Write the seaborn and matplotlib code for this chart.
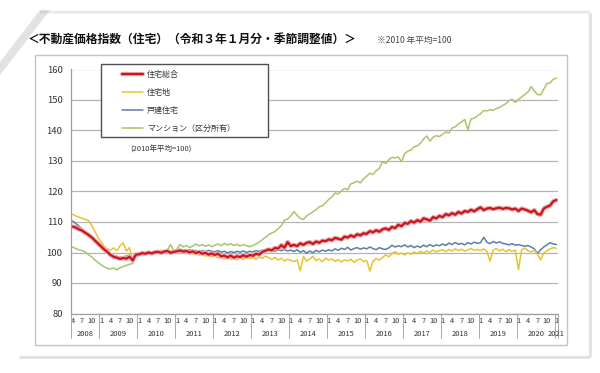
import numpy as np
import pandas as pd
import matplotlib
matplotlib.use("Agg")
import matplotlib.pyplot as plt
import matplotlib.patheffects as pe
import matplotlib.transforms as mtransforms
from matplotlib.lines import Line2D
from matplotlib.patches import Rectangle, Polygon
import seaborn as sns

# ---------------- data (monthly, Apr 2008 - Jan 2021) ----------------
months = pd.date_range("2008-04-01", periods=154, freq="MS")

sogo = [  # 住宅総合
    108.5, 108.2, 107.6, 107.2, 106.5, 105.8, 105.0, 104.0, 103.0,
    102.0, 101.0, 100.2, 99.2, 98.6, 98.3, 97.9, 98.2, 98.0, 98.6, 97.4, 99.3,
    99.4, 99.8, 99.6, 100.0, 99.7, 100.1, 100.2, 99.9, 100.3, 100.5, 99.9, 100.2,
    100.4, 100.7, 100.3, 100.5, 100.0, 100.4, 99.8, 100.2, 99.6, 99.9, 99.3, 99.7,
    99.2, 99.6, 98.7, 99.0, 98.4, 99.0, 98.3, 98.8, 98.5, 99.1, 98.6, 99.2,
    98.9, 99.6, 99.3, 100.2, 100.6, 101.0, 100.7, 101.5, 101.3, 102.4, 101.6, 103.4,
    102.1, 102.5, 102.1, 103.0, 102.5, 103.2, 103.4, 102.8, 103.6, 103.2, 103.9, 103.7,
    104.3, 104.0, 104.8, 104.5, 104.2, 105.2, 104.9, 105.6, 105.1, 106.0, 105.6, 106.3,
    106.1, 107.0, 106.6, 107.3, 106.8, 107.6, 107.9, 107.4, 108.4, 108.0, 109.1, 108.6,
    109.7, 109.4, 110.3, 109.8, 110.6, 110.1, 111.2, 110.9, 110.4, 111.6, 111.2, 112.0,
    111.6, 112.6, 112.2, 112.9, 112.4, 113.3, 112.8, 113.6, 113.3, 114.0, 113.5, 114.2,
    114.8, 113.9, 114.4, 114.6, 114.2, 114.5, 114.7, 114.3, 114.6, 114.5, 114.1, 114.4,
    113.6, 114.4, 114.1, 113.7, 113.2, 113.9, 112.6, 112.4, 114.4, 115.0, 115.4, 116.8,
    117.2,
]

takuchi = [  # 住宅地
    112.5, 112.0, 111.6, 111.2, 110.8, 110.5, 109.0, 107.0, 105.0,
    103.5, 102.0, 101.2, 100.8, 101.5, 100.6, 102.2, 103.2, 100.5, 101.6, 97.2, 99.4,
    99.8, 100.3, 99.5, 100.2, 99.9, 100.4, 99.7, 100.8, 100.1, 101.0, 100.3, 100.5,
    100.9, 100.2, 100.6, 99.8, 100.3, 99.5, 99.9, 99.1, 99.6, 98.8, 99.2, 98.6,
    98.9, 98.2, 98.7, 97.9, 98.5, 97.8, 98.4, 97.6, 98.3, 97.7, 98.6, 98.0,
    98.4, 97.8, 98.6, 98.1, 98.8, 98.3, 97.8, 98.4, 97.5, 98.1, 97.2, 97.8,
    97.4, 97.0, 97.6, 94.0, 98.7, 97.2, 97.9, 98.8, 97.3, 97.9, 97.0, 98.2,
    97.5, 97.9, 97.1, 97.7, 96.9, 97.6, 97.2, 97.8, 96.8, 97.5, 97.9, 97.0,
    97.4, 93.9, 97.2, 98.0, 97.5, 98.3, 99.2, 98.6, 99.6, 100.3, 99.4, 99.8,
    99.2, 99.9, 99.4, 100.2, 99.6, 100.4, 99.8, 100.5, 100.1, 100.8, 100.2, 100.6,
    100.9, 100.3, 101.0, 100.5, 101.2, 100.6, 101.1, 100.4, 100.9, 101.3, 100.7, 101.0,
    100.6, 101.2, 100.4, 97.2, 100.8, 101.3, 100.5, 101.1, 100.3, 100.9, 100.4, 100.8,
    94.4, 100.9, 101.4, 100.6, 100.2, 100.8, 99.4, 97.6, 99.8, 100.6, 101.2, 101.6,
    101.4,
]

kodate = [  # 戸建住宅
    110.3, 109.5, 108.6, 107.7, 106.7, 105.7, 104.6, 103.5, 102.6,
    101.7, 100.8, 100.2, 99.5, 99.0, 98.7, 98.4, 98.6, 98.8, 99.1, 98.0, 99.5,
    99.6, 99.9, 99.7, 100.1, 99.8, 100.2, 100.0, 100.3, 100.1, 100.4, 100.0, 100.3,
    100.6, 100.3, 100.8, 100.5, 100.9, 100.4, 100.7, 100.2, 100.6, 100.3, 100.7, 100.4,
    100.2, 100.6, 100.1, 100.4, 99.9, 100.3, 100.0, 100.4, 100.1, 100.5, 100.0, 100.4,
    100.2, 100.6, 100.3, 100.8, 100.5, 101.0, 100.7, 100.4, 100.9, 100.6, 101.0, 100.5,
    100.8, 100.3, 100.9, 100.1, 100.6, 99.8, 100.5, 99.9, 100.7, 100.2, 100.8, 100.4,
    100.9, 100.5, 101.2, 100.7, 101.4, 101.0, 101.7, 100.8, 101.3, 101.6, 101.1, 101.5,
    101.2, 101.8, 101.3, 100.9, 101.6, 101.2, 101.0, 101.5, 102.4, 101.8, 102.2, 101.9,
    102.5, 101.8, 102.3, 101.6, 102.1, 101.7, 102.4, 101.9, 102.6, 102.0, 102.5, 102.2,
    102.8, 102.3, 103.1, 102.6, 103.3, 102.7, 103.0, 102.5, 103.2, 102.8, 103.4, 103.0,
    103.2, 105.0, 103.4, 102.9, 103.6, 103.1, 103.5, 103.0, 102.8, 102.5, 102.9, 102.4,
    102.6, 102.3, 102.0, 102.3, 101.8, 101.2, 99.7, 100.9, 101.8, 102.5, 103.2, 102.8,
    102.6,
]

mansion = [  # マンション（区分所有）
    101.8, 101.3, 100.9, 100.6, 100.2, 99.3, 98.6, 97.6, 96.8,
    96.0, 95.3, 94.8, 94.6, 94.9, 94.3, 95.0, 95.4, 95.8, 96.1, 96.4, 98.4,
    99.2, 99.6, 99.4, 100.0, 99.7, 100.2, 99.8, 100.4, 100.1, 100.9, 102.6, 100.4,
    101.2, 102.6, 101.8, 102.3, 101.6, 102.1, 102.8, 102.2, 102.6, 102.0, 102.5, 101.9,
    102.4, 102.8, 102.2, 103.0, 102.5, 102.9, 102.3, 102.7, 102.1, 102.6, 102.2, 101.9,
    102.3, 102.8, 103.4, 104.2, 105.0, 105.8, 106.4, 106.9, 107.8, 108.8, 110.6, 111.0,
    112.0, 113.4, 112.2, 111.2, 110.8, 112.0, 112.6, 113.4, 114.0, 115.0, 115.3, 116.3,
    117.4, 118.2, 119.5, 119.2, 120.2, 121.0, 120.6, 122.5, 122.9, 123.4, 122.8, 124.2,
    125.0, 126.0, 125.6, 126.8, 127.6, 129.8, 129.2, 130.4, 131.2, 131.0, 131.3, 129.8,
    132.4, 133.2, 133.6, 134.6, 135.0, 135.8, 137.2, 138.2, 136.5, 137.8, 138.3, 138.0,
    138.8, 139.5, 139.2, 140.8, 141.2, 142.2, 142.8, 143.6, 140.2, 143.8, 144.0, 144.8,
    145.5, 146.6, 146.4, 146.8, 146.6, 147.2, 147.6, 148.2, 148.8, 149.8, 150.2, 149.2,
    150.2, 151.0, 151.8, 152.6, 154.4, 153.0, 151.8, 151.7, 153.6, 155.4, 155.6, 156.8,
    157.2,
]

series_names = ["住宅総合", "住宅地", "戸建住宅", "マンション（区分所有）"]
series_values = [sogo, takuchi, kodate, mansion]
colors = ["#c8161e", "#e6c430", "#5a7ea8", "#a9c46e"]
yticks = [80, 90, 100, 110, 120, 130, 140, 150, 160]
title = "＜不動産価格指数（住宅）（令和３年１月分・季節調整値）＞"
note = "※2010 年平均=100"
legend_note = "(2010年平均=100)"

# ---------------- style ----------------
sns.set_style("white")
plt.rcParams["font.family"] = ["Noto Sans CJK JP", "DejaVu Sans"]

W, H = 600, 373
fig = plt.figure(figsize=(W / 100, H / 100), dpi=100)
fig.patch.set_facecolor("white")


def fx(px):
    return px / W


def fy(py):
    return 1 - py / H


# paper-like frame / shadows
for i, a in enumerate([0.10, 0.18, 0.28]):
    fig.add_artist(Line2D([fx(589 + i), fx(589 + i)], [fy(14), fy(357)],
                          color="#9a9a9a", alpha=a, lw=1.2, transform=fig.transFigure))
    fig.add_artist(Line2D([fx(20), fx(589)], [fy(356 + i), fy(356 + i)],
                          color="#9a9a9a", alpha=a, lw=1.2, transform=fig.transFigure))
    fig.add_artist(Line2D([fx(40), fx(589)], [fy(13 - i), fy(13 - i)],
                          color="#b0b0b0", alpha=a, lw=1.0, transform=fig.transFigure))
fig.add_artist(Polygon([[fx(0), fy(75)], [fx(0), fy(62)], [fx(40), fy(10)], [fx(50), fy(10)]],
                       closed=True, facecolor="#e2e2e2", edgecolor="none",
                       transform=fig.transFigure))

# chart box
fig.add_artist(Rectangle((fx(35), fy(345)), fx(567) - fx(35), fy(55) - fy(345),
                         facecolor="none", edgecolor="#c4c4c4", lw=1.0,
                         transform=fig.transFigure))

# ---------------- axes ----------------
ax = fig.add_axes([fx(71), fy(313.5), (558 - 71) / W, (313.5 - 69.5) / H])
ax.set_facecolor("white")

idx = np.arange(len(months))
frames = []
for name, vals in zip(series_names, series_values):
    frames.append(pd.DataFrame({"idx": idx, "value": vals, "series": name}))
df = pd.concat(frames, ignore_index=True)

order = ["マンション（区分所有）", "戸建住宅", "住宅地", "住宅総合"]
palette = dict(zip(series_names, colors))
sns.lineplot(data=df, x="idx", y="value", hue="series", hue_order=order,
             palette=palette, ax=ax, legend=False, errorbar=None, linewidth=1.1)

lines = ax.get_lines()
red_line = lines[-1]
red_line.set_linewidth(1.6)
red_line.set_path_effects([pe.Stroke(linewidth=3.2, foreground="#f2a9ad"), pe.Normal()])

ax.set_xlim(-0.5, len(months) - 0.5)
ax.set_ylim(80, 160)
ax.set_yticks(yticks)
ax.yaxis.grid(True, color="#b4b4b4", lw=0.9)
ax.xaxis.grid(False)
for s in ["top", "right"]:
    ax.spines[s].set_visible(False)
ax.spines["left"].set_color("#a0a0a0")
ax.spines["bottom"].set_color("#a0a0a0")
ax.spines["left"].set_linewidth(0.9)
ax.spines["bottom"].set_linewidth(0.9)
ax.tick_params(axis="y", length=0, pad=6, labelsize=6.8, labelcolor="#333333")
ax.set_xlabel("")
ax.set_ylabel("")

tick_pos = [i for i, m in enumerate(months) if m.month in (1, 4, 7, 10)]
tick_lab = [str(months[i].month) for i in tick_pos]
ax.set_xticks(tick_pos)
ax.set_xticklabels(tick_lab)
ax.tick_params(axis="x", length=0, pad=2.5, labelsize=5.4, labelcolor="#333333")

trans = mtransforms.blended_transform_factory(ax.transData, ax.transAxes)
years = sorted(set(m.year for m in months))
for y in years:
    ii = [i for i, m in enumerate(months) if m.year == y]
    ax.text(np.mean(ii), -0.085, str(y), transform=trans, ha="center", va="center",
            fontsize=5.4, color="#333333")
bounds = [-0.5] + [i - 0.5 for i, m in enumerate(months) if m.month == 1] + [len(months) - 0.5]
for b in bounds:
    ax.plot([b, b], [0, -0.10], transform=trans, clip_on=False, color="#a8a8a8", lw=0.7)

# ---------------- legend (box) ----------------
fig.add_artist(Rectangle((fx(101), fy(137)), fx(268) - fx(101), fy(64) - fy(137),
                         facecolor="white", edgecolor="#505050", lw=1.0,
                         transform=fig.transFigure, zorder=5))
leg_y = [74, 92, 110, 128]
for name, col, yy in zip(series_names, colors, leg_y):
    ln = Line2D([fx(122), fx(143)], [fy(yy), fy(yy)], color=col,
                lw=1.6 if name == "住宅総合" else 1.1,
                transform=fig.transFigure, zorder=6)
    if name == "住宅総合":
        ln.set_path_effects([pe.Stroke(linewidth=3.0, foreground="#f2a9ad"), pe.Normal()])
    fig.add_artist(ln)
    fig.text(fx(147), fy(yy), name, fontsize=5.8, va="center", ha="left",
             color="#333333", zorder=7)
fig.text(fx(130), fy(150), legend_note, fontsize=5.4, va="center", ha="left", color="#333333")

# ---------------- titles ----------------
fig.text(fx(28), fy(39), title, fontsize=8.5, fontweight="bold", va="center", ha="left",
         color="#111111")
fig.text(fx(377), fy(40), note, fontsize=6.2, va="center", ha="left", color="#444444")

fig.savefig("out.png", dpi=100, facecolor="white")
